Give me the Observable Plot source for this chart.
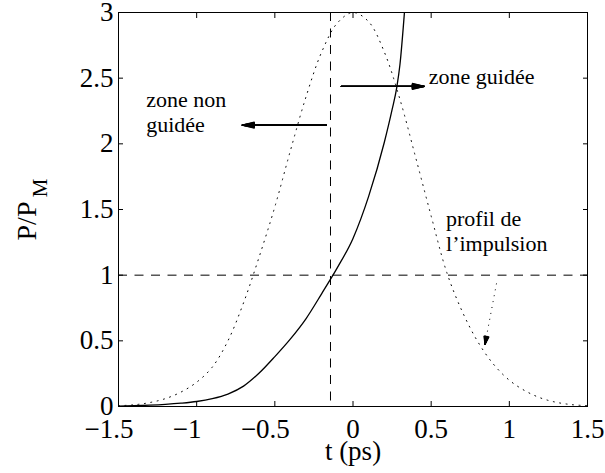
<!DOCTYPE html>
<html><head><meta charset="utf-8">
<script src="https://cdn.jsdelivr.net/npm/d3@7"></script>
<script src="https://cdn.jsdelivr.net/npm/@observablehq/plot@0.6"></script>
<style>
html,body{margin:0;padding:0;background:#fff}
svg{display:block}
#chart svg, #chart svg text, #chart svg tspan{font-family:"Liberation Serif","Times New Roman","DejaVu Serif",serif !important;}
</style>
</head><body><div id="chart"></div>
<script>
// Solid curve (power threshold curve)
const tSolid = [-1.5,-1.4,-1.3,-1.2,-1.1,-1.0,-0.9,-0.8,-0.7,-0.6,-0.5,-0.4,-0.3,-0.2,-0.1,0.0,0.1,0.2,0.25,0.28,0.3,0.329];
const pSolid = [0.003,0.006,0.01,0.016,0.025,0.038,0.06,0.095,0.155,0.255,0.38,0.515,0.67,0.86,1.057,1.28,1.60,2.01,2.26,2.43,2.6,3.0];
// Dotted curve (pulse profile)
const tPulse = [-1.5,-1.4,-1.3,-1.2,-1.1,-1.0,-0.9,-0.8,-0.7,-0.6,-0.5,-0.4,-0.3,-0.2,-0.1,0,0.1,0.2,0.3,0.4,0.5,0.6,0.7,0.8,0.9,1.0,1.1,1.2,1.3,1.4,1.5];
const pPulse = [0.006,0.013,0.03,0.06,0.11,0.185,0.30,0.50,0.79,1.14,1.52,1.95,2.36,2.70,2.92,3.0,2.93,2.70,2.34,1.90,1.45,1.02,0.72,0.49,0.32,0.20,0.12,0.065,0.032,0.014,0.006];
// Reference lines
const threshold = [1];
const tCut = [-0.144];
// Ticks
const xTicks = [-1.5,-1,-0.5,0,0.5,1,1.5];
const yTicks = [0,0.5,1,1.5,2,2.5,3];
// Annotations
const labelText = ["zone non\nguidée", "zone guidée", "profil de\nl’impulsion"];
const labelT = [-1.323, 0.485, 0.595];
const labelP = [2.089, 2.456, 1.185];
// Solid arrows
const arrowT1 = [-0.17, -0.075];
const arrowP1 = [2.143, 2.437];
const arrowT2 = [-0.709, 0.457];
const arrowP2 = [2.143, 2.437];
// Dotted arrow
const dArrowT1 = [0.918];
const dArrowP1 = [0.937];
const dArrowT2 = [0.844];
const dArrowP2 = [0.472];

const F = "Liberation Serif, DejaVu Serif, serif";
const solid = tSolid.map((t, i) => ({t, p: pSolid[i]}));
const pulse = tPulse.map((t, i) => ({t, p: pPulse[i]}));
const labels = labelText.map((s, i) => ({s, t: labelT[i], p: labelP[i]}));
const arrows = arrowT1.map((t, i) => ({t1: t, p1: arrowP1[i], t2: arrowT2[i], p2: arrowP2[i]}));
const dArrows = dArrowT1.map((t, i) => ({t1: t, p1: dArrowP1[i], t2: dArrowT2[i], p2: dArrowP2[i]}));
const fmtX = d => d < 0 ? "\u2212" + Math.abs(d) + "\u2002\u2009" : String(d);
const fmtY = d => String(d);
const fan1 = [4, 8, 12, 16, 20, 24, 28];
const fan2 = [6, 12, 18, 24, 30, 34];

const plot = Plot.plot({
  width: 605, height: 473,
  marginLeft: 118, marginRight: 18, marginTop: 12, marginBottom: 67,
  style: {background: "white", color: "black", overflow: "visible"},
  x: {domain: [-1.5, 1.5]},
  y: {domain: [0, 3]},
  marks: [
    Plot.ruleY(threshold, {stroke: "black", strokeWidth: 1, strokeDasharray: "9,7.5"}),
    Plot.ruleX(tCut, {stroke: "black", strokeWidth: 1, strokeDasharray: "9,7.5"}),
    Plot.line(pulse, {x: "t", y: "p", curve: "catmull-rom", stroke: "black", strokeWidth: 1, strokeDasharray: "1,5.5"}),
    Plot.line(solid, {x: "t", y: "p", curve: "monotone-x", stroke: "black", strokeWidth: 1.3, clip: true}),
    ...fan1.map(a => Plot.arrow(arrows, {x1: "t1", y1: "p1", x2: "t2", y2: "p2", headAngle: a, headLength: 15.5, strokeWidth: 1.2, stroke: "black"})),
    Plot.link(dArrows, {x1: "t1", y1: "p1", x2: "t2", y2: "p2", stroke: "black", strokeWidth: 1, strokeDasharray: "1,5"}),
    ...fan2.map(a => Plot.arrow(dArrows, {x1: "t1", y1: "p1", x2: "t2", y2: "p2", headAngle: a, headLength: 10.4, strokeWidth: 1.2, stroke: "black", insetStart: 55})),
    Plot.axisX(xTicks, {anchor: "bottom", tickSize: 0, tickPadding: 12, fontSize: 27, tickFormat: fmtX, label: null}),
    Plot.axisX(xTicks, {anchor: "bottom", tickSize: -5, tickFormat: () => "", label: null}),
    Plot.axisX(xTicks, {anchor: "top", tickSize: -5, tickFormat: () => "", label: null}),
    Plot.axisY(yTicks, {anchor: "left", tickSize: 0, tickPadding: 5, fontSize: 27, tickFormat: fmtY, label: null}),
    Plot.axisY(yTicks, {anchor: "left", tickSize: -5, tickFormat: () => "", label: null}),
    Plot.axisY(yTicks, {anchor: "right", tickSize: -5, tickFormat: () => "", label: null}),
    Plot.frame({stroke: "black", strokeWidth: 1}),
    Plot.text(labels, {x: "t", y: "p", text: "s", textAnchor: "start", lineAnchor: "bottom", lineHeight: 1.14, fontSize: 22, fill: "black"}),
    Plot.text(["t (ps)"], {frameAnchor: "bottom", dy: 53, lineAnchor: "bottom", fontSize: 27, fill: "black"}),
    Plot.text(["P/P"], {frameAnchor: "left", rotate: -90, dx: -83, dy: 11.5, textAnchor: "middle", lineAnchor: "bottom", fontSize: 28, fill: "black"}),
    Plot.text(["M"], {frameAnchor: "left", rotate: -90, dx: -71.3, dy: -21.5, textAnchor: "middle", lineAnchor: "bottom", fontSize: 21, fill: "black"})
  ]
});
document.getElementById("chart").appendChild(plot);
</script>
</body></html>
